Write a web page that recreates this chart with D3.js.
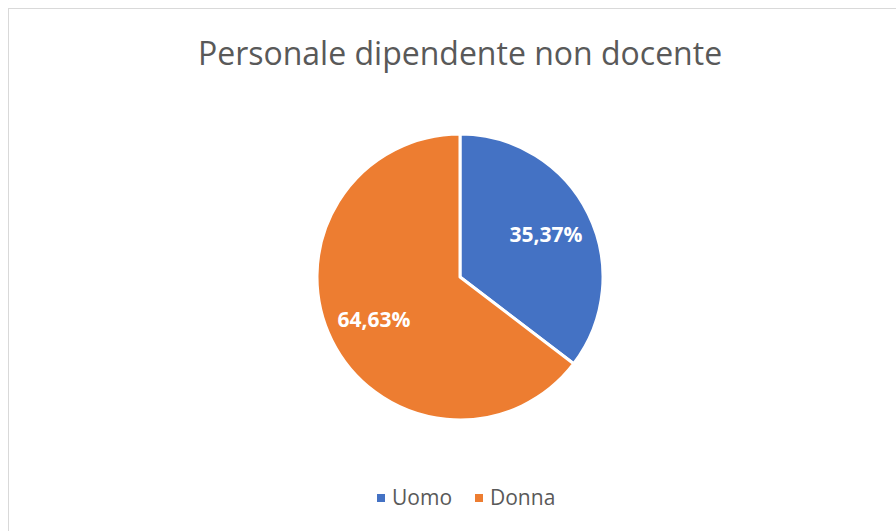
<!DOCTYPE html>
<html>
<head>
<meta charset="utf-8">
<script src="https://cdn.jsdelivr.net/npm/d3@7"></script>
<style>
  body { margin: 0; background: #fff; }
</style>
</head>
<body>
<div id="chart"></div>
<script>
// data
const labels = ["Uomo", "Donna"];
const values = [35.37, 64.63];
const colors = ["#4472C4", "#ED7D31"];

const W = 896, H = 531;
const cx = 460, cy = 277, radius = 143;

const svg = d3.select("#chart")
  .append("svg")
  .attr("width", W)
  .attr("height", H);

// chart area border
svg.append("rect")
  .attr("x", 8.5).attr("y", 8.5)
  .attr("width", W).attr("height", H)
  .attr("fill", "#fff")
  .attr("stroke", "#d9d9d9")
  .attr("stroke-width", 1);

// title
svg.append("text")
  .attr("x", 460).attr("y", 65)
  .attr("text-anchor", "middle")
  .style("font-family", "'Open Sans', sans-serif")
  .style("font-size", "32px")
  .style("fill", "#595959")
  .text("Personale dipendente non docente");

const data = labels.map((l, i) => ({ label: l, value: values[i], color: colors[i] }));

const pie = d3.pie().sort(null).value(d => d.value);
const arc = d3.arc().innerRadius(0).outerRadius(radius);
const labelArc = d3.arc().innerRadius(96).outerRadius(96);

const g = svg.append("g").attr("transform", `translate(${cx},${cy})`);

const arcs = pie(data);

g.selectAll("path")
  .data(arcs)
  .join("path")
  .attr("d", arc)
  .attr("fill", d => d.data.color)
  .attr("stroke", "#fff")
  .attr("stroke-width", 3)
  .attr("stroke-linejoin", "round");

g.selectAll("text.lbl")
  .data(arcs)
  .join("text")
  .attr("class", "lbl")
  .attr("transform", d => `translate(${labelArc.centroid(d)})`)
  .attr("text-anchor", "middle")
  .attr("dy", "0.35em")
  .style("font-family", "'Open Sans', sans-serif")
  .style("font-weight", "bold")
  .style("font-size", "21px")
  .style("fill", "#fff")
  .text(d => d3.format(".2f")(d.data.value).replace(".", ",") + "%");

// legend
const legend = svg.append("g").attr("transform", "translate(377,498)");
const offsets = [0, 98];
const item = legend.selectAll("g")
  .data(data)
  .join("g")
  .attr("transform", (d, i) => `translate(${offsets[i]},0)`);

item.append("rect")
  .attr("x", 0).attr("y", -4)
  .attr("width", 8).attr("height", 8)
  .attr("fill", d => d.color);

item.append("text")
  .attr("x", 15).attr("y", 0)
  .attr("dy", "0.35em")
  .style("font-family", "'Open Sans', sans-serif")
  .style("font-size", "21px")
  .style("fill", "#595959")
  .text(d => d.label);
</script>
</body>
</html>
